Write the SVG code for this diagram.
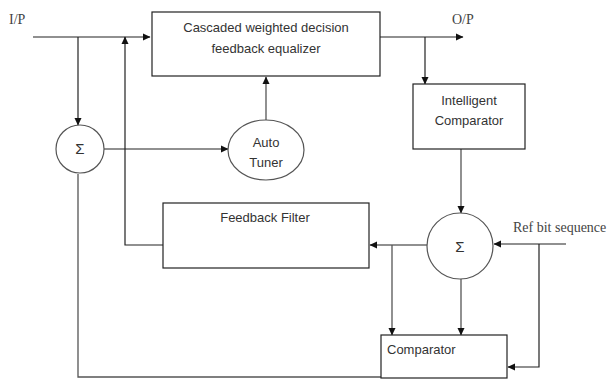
<svg xmlns="http://www.w3.org/2000/svg" width="615" height="379" viewBox="0 0 615 379">
<defs>
<marker id="ah" markerWidth="8" markerHeight="8" refX="7" refY="4" orient="auto" markerUnits="userSpaceOnUse">
<path d="M0,0.5 L7.5,4 L0,7.5 Z" fill="#111"/>
</marker>
<style>
.box{fill:#fff;stroke:#222;stroke-width:1.2}
.circ{fill:#fff;stroke:#555;stroke-width:1.2}
.ln{fill:none;stroke:#222;stroke-width:1.2}
.gl{fill:none;stroke:#555;stroke-width:1.3}
.t{font-family:"Liberation Sans","Open Sans",sans-serif;font-size:13px;fill:#333;text-anchor:middle}
.s{font-family:"Liberation Serif","DejaVu Serif",serif;font-size:14px;fill:#444}
</style>
</defs>
<g id="connectors">
<path class="ln" d="M33,37 H150" marker-end="url(#ah)"/>
<path class="ln" d="M78,37 V125" marker-end="url(#ah)"/>
<path class="ln" d="M163,245 H125 V37" marker-end="url(#ah)"/>
<path class="ln" d="M104,149 H228" marker-end="url(#ah)"/>
<path class="gl" d="M266,120 V77" marker-end="url(#ah)"/>
<path class="ln" d="M380,37 H463" marker-end="url(#ah)"/>
<path class="ln" d="M425,37 V84" marker-end="url(#ah)"/>
<path class="gl" d="M461,149 V213" marker-end="url(#ah)"/>
<path class="ln" d="M566,244 H494" marker-end="url(#ah)"/>
<path class="ln" d="M539,244 V367 H508" marker-end="url(#ah)"/>
<path class="ln" d="M427,245 H370" marker-end="url(#ah)"/>
<path class="gl" d="M392,245 V335" marker-end="url(#ah)"/>
<path class="gl" d="M461,279 V335" marker-end="url(#ah)"/>
<path class="gl" d="M78,174 V377 H381"/>
</g>
<g id="input"><text class="s" x="9" y="24">I/P</text></g>
<g id="output"><text class="s" x="452" y="24">O/P</text></g>
<g id="ref"><text class="s" x="513" y="232">Ref bit sequence</text></g>
<g id="equalizer">
<rect class="box" x="152" y="12" width="228" height="64"/>
<text class="t" x="266" y="32">Cascaded weighted decision</text>
<text class="t" x="266" y="53">feedback equalizer</text>
</g>
<g id="sum1">
<circle class="circ" cx="80" cy="149" r="24"/>
<text class="t" x="80" y="154" style="font-size:15px">Σ</text>
</g>
<g id="autotuner">
<ellipse class="circ" cx="266" cy="150" rx="38" ry="30"/>
<text class="t" x="266" y="147">Auto</text>
<text class="t" x="266" y="167">Tuner</text>
</g>
<g id="intelligent">
<rect class="box" x="413" y="84" width="112" height="65"/>
<text class="t" x="469" y="105">Intelligent</text>
<text class="t" x="469" y="125">Comparator</text>
</g>
<g id="feedback">
<rect class="box" x="163" y="203" width="206" height="65"/>
<text class="t" x="265" y="222">Feedback Filter</text>
</g>
<g id="sum2">
<circle class="circ" cx="460" cy="246" r="33"/>
<text class="t" x="460" y="252" style="font-size:15px">Σ</text>
</g>
<g id="comparator">
<rect class="box" x="381" y="335" width="126" height="43"/>
<text class="t" x="387" y="354" style="text-anchor:start">Comparator</text>
</g>
</svg>
